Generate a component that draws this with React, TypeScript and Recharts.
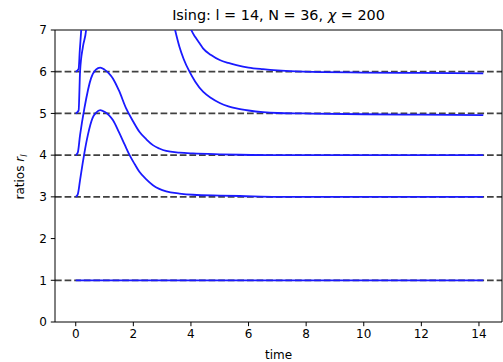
import { LineChart, Line, XAxis, YAxis, ReferenceLine } from "recharts";

// time grid and ratio values, one list per level
const tFlat = [0, 3, 7, 10, 14.15];
const rFlat = [1, 1, 1, 1, 1];

const t3 = [0, 0.07, 0.15, 0.24, 0.3, 0.42, 0.59, 0.71, 0.85, 1.0, 1.15, 1.29, 1.5, 1.7, 1.87, 2.05, 2.21, 2.45, 2.68, 2.9, 3.14, 3.6, 4.07, 5.0, 5.7, 7, 10, 14.15];
const r3 = [3.0, 3.06, 3.4, 3.8, 4.05, 4.48, 4.9, 5.02, 5.08, 5.04, 4.96, 4.84, 4.55, 4.25, 4.0, 3.78, 3.6, 3.42, 3.28, 3.19, 3.13, 3.08, 3.05, 3.03, 3.02, 3.0, 3.0, 3.0];

const t4 = [0, 0.07, 0.15, 0.3, 0.53, 0.7, 0.85, 1.0, 1.15, 1.29, 1.5, 1.75, 2.0, 2.21, 2.45, 2.68, 2.9, 3.14, 3.6, 4.07, 5.0, 5.7, 7, 10, 14.15];
const r4 = [4.0, 4.06, 4.48, 5.12, 5.84, 6.05, 6.1, 6.05, 5.96, 5.84, 5.55, 5.12, 4.8, 4.56, 4.38, 4.24, 4.16, 4.1, 4.06, 4.04, 4.02, 4.01, 4.0, 4.0, 4.0];

// levels 5 and 6 shoot off the top of the axes and come back later
const t5 = [0, 0.1, 0.15, 0.25, 0.36, 0.42, 1.5, 3.35, 3.45, 3.6, 3.75, 3.95, 4.15, 4.42, 4.7, 5.0, 5.3, 5.58, 6.0, 6.5, 7.0, 7.9, 10, 12, 14.15];
const r5: (number | null)[] = [5.0, 5.07, 6.0, 6.6, 7.0, 7.5, null, 7.3, 7.0, 6.6, 6.3, 6.0, 5.76, 5.52, 5.37, 5.25, 5.17, 5.12, 5.07, 5.03, 5.01, 5.0, 4.98, 4.97, 4.96];

const t6 = [0, 0.1, 0.14, 0.19, 0.23, 2.0, 3.9, 4.01, 4.15, 4.3, 4.42, 4.7, 5.0, 5.3, 5.58, 6.0, 6.5, 7.0, 7.9, 10, 12, 14.15];
const r6: (number | null)[] = [6.0, 6.07, 6.5, 7.0, 7.5, null, 7.2, 7.0, 6.83, 6.68, 6.56, 6.4, 6.28, 6.21, 6.16, 6.1, 6.06, 6.03, 6.0, 5.98, 5.97, 5.96];

const levels = [1, 3, 4, 5, 6];
const xTicks = [0, 2, 4, 6, 8, 10, 12, 14];
const yTicks = [0, 1, 2, 3, 4, 5, 6, 7];
const xMin = -0.72;
const xMax = 14.8;

const zip = (t: number[], r: (number | null)[]) => t.map((v, i) => ({ t: v, r: r[i] }));
const series = [zip(tFlat, rFlat), zip(t3, r3), zip(t4, r4), zip(t5, r5), zip(t6, r6)];

const font = "DejaVu Sans, sans-serif";
const tickStyle = { fill: "#000", fontSize: 12, fontFamily: font };

function YLabel() {
  return (
    <text
      transform="translate(24,177) rotate(-90)"
      textAnchor="middle"
      fontSize={12}
      fontFamily={font}
      fill="#000"
    >
      ratios <tspan fontStyle="italic">r</tspan>
      <tspan fontStyle="italic" fontSize={8.5} dy={3}>l</tspan>
    </text>
  );
}

export default function App() {
  return (
    <div style={{ position: "relative", width: 503, height: 362, background: "#fff" }}>
      <style>{"body{margin:0}"}</style>
      <div
        style={{
          position: "absolute",
          left: 55,
          width: 447,
          top: 7,
          textAlign: "center",
          fontFamily: font,
          fontSize: 14.4,
          color: "#000",
          lineHeight: "17px",
        }}
      >
        Ising: l = 14, N = 36, <span style={{ fontStyle: "italic" }}>χ</span> = 200
      </div>
      <LineChart width={503} height={362} margin={{ top: 30, right: 1, left: 0, bottom: 0 }}>
        <XAxis
          dataKey="t"
          type="number"
          domain={[xMin, xMax]}
          allowDataOverflow
          ticks={xTicks}
          tick={tickStyle}
          tickSize={4.2}
          tickMargin={3}
          height={40}
          stroke="#000"
          label={{ value: "time", position: "insideBottom", offset: 3, fill: "#000", fontSize: 12, fontFamily: font }}
        />
        <YAxis
          type="number"
          domain={[0, 7]}
          allowDataOverflow
          ticks={yTicks}
          tick={tickStyle}
          tickSize={4.2}
          tickMargin={4}
          width={55}
          stroke="#000"
          label={<YLabel />}
        />
        {levels.map((y) => (
          <ReferenceLine
            key={y}
            y={y}
            stroke="#404040"
            strokeWidth={1.8}
            strokeDasharray="6.7 2.9"
            zIndex={300}
          />
        ))}
        {series.map((d, i) => (
          <Line
            key={i}
            data={d}
            dataKey="r"
            type="monotone"
            stroke="#1a1aff"
            strokeWidth={1.8}
            dot={false}
            activeDot={false}
            isAnimationActive={false}
            zIndex={600}
          />
        ))}
        <ReferenceLine y={7} stroke="#000" strokeWidth={1} />
        <ReferenceLine x={xMax} stroke="#000" strokeWidth={1} />
      </LineChart>
    </div>
  );
}
